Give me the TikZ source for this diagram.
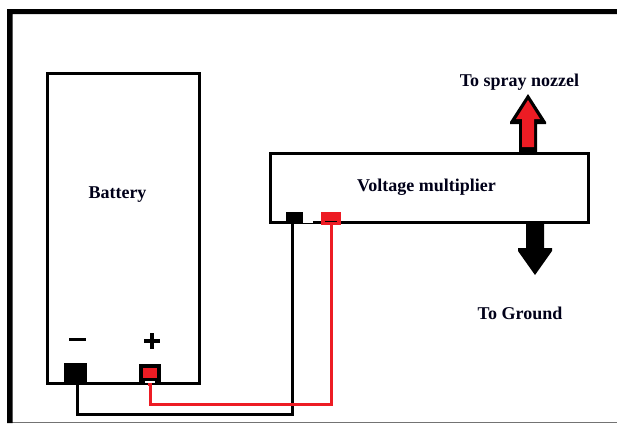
\documentclass[tikz,border=0pt]{standalone}
\usepackage{fontspec}
\setmainfont{Liberation Serif}
\definecolor{wirered}{HTML}{ED1C24}
\tikzset{
  box/.style={draw=black,line width=3pt,fill=white,inner sep=0pt,outer sep=0pt},
  term/.style={inner sep=0pt,outer sep=0pt},
  lbl/.style={font=\bfseries\fontsize{18}{20}\selectfont,text=black!90!blue,inner sep=0pt},
  wire/.style={line width=3pt,line join=miter},
  sign/.style={line width=3.5pt,line cap=butt}
}
\begin{document}
\begin{tikzpicture}[x=1pt,y=-1pt]
\useasboundingbox (0,0) rectangle (617,423);
\fill[white] (0,0) rectangle (617,423);
% outer frame
\fill[black!55] (7,421.8) rectangle (617,423);
\fill[black] (7,423) -- (7,9) -- (617,9) -- (617,14) -- (12.5,14) -- (12.5,423) -- cycle;
% boxes
\node[box,minimum width=152pt,minimum height=310pt] (battery) at (123.5,228) {};
\node[box,minimum width=318pt,minimum height=69pt] (vm) at (429.5,188) {};
% terminals
\node[term,fill=black,minimum width=23pt,minimum height=21pt] (bneg) at (75.5,373.5) {};
\node[term,fill=black,minimum width=22pt,minimum height=19pt] (bposo) at (150,373.5) {};
\node[term,fill=wirered,minimum width=14pt,minimum height=10pt] (bpos) at (150,373) {};
\fill[white] (145,380.5) rectangle (155,383);
\node[term,fill=black,minimum width=17pt,minimum height=12pt] (vneg) at (294.5,218) {};
\node[term,fill=wirered,minimum width=20pt,minimum height=13pt] (vpos) at (331,218.5) {};
\fill[black] (325,220.5) rectangle (337,222);
\fill[white] (303,220.5) rectangle (313,222.5);
% connectors
\coordinate (bj) at (77.5,414);
\coordinate (rj) at (150,404);
\coordinate (vj) at (292.4,414);
\draw[wire,black] (bneg.south -| bj) -- (bj) -- (vj) -- (vj |- vneg.south);
\draw[wire,wirered] (148,384.5) -- (150,384.5) -- (rj) -- (rj -| vpos.south) -- (vpos.south);
% up arrow
\fill[black] (519,152) -- (519,124) -- (510,124) -- (510,122) -- (528,94) -- (546,122) -- (546,124) -- (537,124) -- (537,152) -- cycle;
\fill[wirered] (522,147) -- (522,119) -- (516,119) -- (528,100) -- (540,119) -- (534,119) -- (534,147) -- cycle;
% down arrow
\fill[black] (526,224) -- (526,248) -- (518,248) -- (518,251) -- (535,275) -- (552,251) -- (552,248) -- (544,248) -- (544,224) -- cycle;
% signs
\draw[sign] (69,339.5) -- (86,339.5);
\draw[sign] (144,341) -- (160,341);
\draw[sign] (152,333) -- (152,349);
% labels
\node[lbl] (tbat) at (117.5,194.5) {Battery};
\node[lbl] (tvm) at (426.5,187) {Voltage multiplier};
\node[lbl] (tspray) at (519.5,82.5) {To spray nozzel};
\node[lbl] (tgnd) at (520,313) {To Ground};
\end{tikzpicture}
\end{document}
